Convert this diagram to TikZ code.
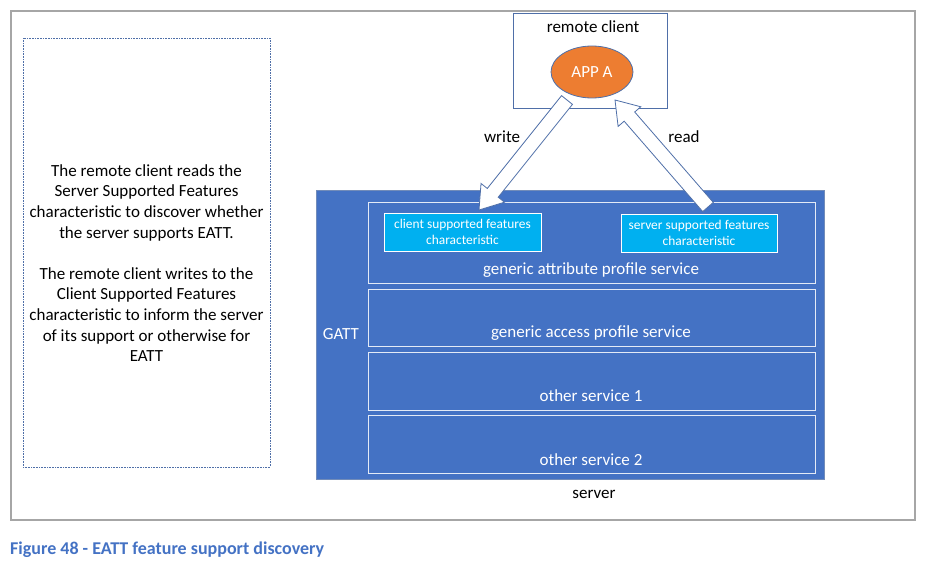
\documentclass[tikz,border=0pt]{standalone}
\usepackage{fontspec}
\setmainfont{Carlito}
\usetikzlibrary{calc,shapes.geometric}
\definecolor{gblue}{HTML}{4472C4}
\definecolor{gorange}{HTML}{ED7D31}
\definecolor{gcyan}{HTML}{00B0F0}
\definecolor{gline}{HTML}{4F6FA8}
\definecolor{ggray}{HTML}{A6A6A6}
\newcommand\blockarrow[2]{%
  \coordinate (#1-b) at ($(#2)!22pt!(#1)$);
  \draw[arrowline]
    ($(#1)!7pt!90:(#2)$) -- ($(#1-b)!7pt!90:(#2)$) -- ($(#1-b)!15pt!90:(#2)$) --
    (#2) -- ($(#1-b)!15pt!-90:(#2)$) -- ($(#1-b)!7pt!-90:(#2)$) --
    ($(#1)!7pt!-90:(#2)$) -- cycle;}
\tikzset{
  box/.style={draw, rectangle, inner sep=0pt},
  row/.style={box, draw=white!85!gblue, line width=0.8pt, minimum width=447pt},
  cyanbox/.style={box, fill=gcyan, draw=white, line width=0.8pt, minimum width=157pt, minimum height=38pt,
    text=white, font=\fontsize{13.4}{15.5}\selectfont, align=center},
  txt/.style={inner sep=0pt, font=\fontsize{17}{19.5}\selectfont},
  wtxt/.style={txt, text=white},
  arrowline/.style={draw=gline, fill=white, line width=0.8pt, line join=miter},
}
\begin{document}
\begin{tikzpicture}[x=1pt,y=-1pt]
\useasboundingbox (0,0) rectangle (926,564);
\node[box, draw=ggray, line width=1.2pt, minimum width=904pt, minimum height=509pt] (frame) at (463,265.5) {};
\node[box, draw=gline, densely dotted, line width=0.6pt, minimum width=247pt, minimum height=429pt] (note) at (146.5,252.5) {};
\node[txt, align=center, font=\fontsize{17}{20.6}\selectfont] (notetxt) at (146.5,263)
  {The remote client reads the\\Server Supported Features\\characteristic to discover whether\\the server supports EATT.\\[20.6pt]The remote client writes to the\\Client Supported Features\\characteristic to inform the server\\of its support or otherwise for\\EATT};
\node[box, draw=gline, line width=0.8pt, minimum width=154pt, minimum height=95pt] (client) at (590,60.5) {};
\node[txt] (clientlbl) at (593,27) {remote client};
\node[ellipse, draw=gline, fill=gorange, line width=0.8pt, minimum width=82pt, minimum height=52pt, inner sep=0pt,
  text=white, font=\fontsize{17}{19}\selectfont] (app) at (592,72) {APP A};
\node[box, draw=gline!80!white, fill=gblue, line width=0.8pt, minimum width=508pt, minimum height=289pt] (gatt) at (570,334.5) {};
\node[wtxt] (gattlbl) at (341,334) {GATT};
\node[row, minimum height=81pt] (r1) at (591.5,242.5) {};
\node[row, minimum height=57pt] (r2) at (591.5,317.5) {};
\node[row, minimum height=58pt] (r3) at (591.5,381) {};
\node[row, minimum height=58pt] (r4) at (591.5,444) {};
\node[wtxt] (r1lbl) at (591,270) {generic attribute profile service};
\node[wtxt] (r2lbl) at (591,333) {generic access profile service};
\node[wtxt] (r3lbl) at (591,396) {other service 1};
\node[wtxt] (r4lbl) at (591,460) {other service 2};
\node[cyanbox] (csf) at (462.5,232) {client supported features\\characteristic};
\node[cyanbox, minimum width=156pt] (ssf) at (699,233) {server supported features\\characteristic};
\node[txt] (serverlbl) at (594,494) {server};
\coordinate (wS) at (567,100);
\coordinate (wE) at (479,210);
\coordinate (rS) at (708,207);
\coordinate (rE) at (615,100);
\blockarrow{wS}{wE}
\blockarrow{rS}{rE}
\node[txt] (writelbl) at (502,137) {write};
\node[txt] (readlbl) at (684,137) {read};
\node[txt, anchor=west, text=gblue, font=\fontsize{18}{21}\selectfont\bfseries] (caption) at (10,550) {Figure 48 - EATT feature support discovery};
\end{tikzpicture}
\end{document}
